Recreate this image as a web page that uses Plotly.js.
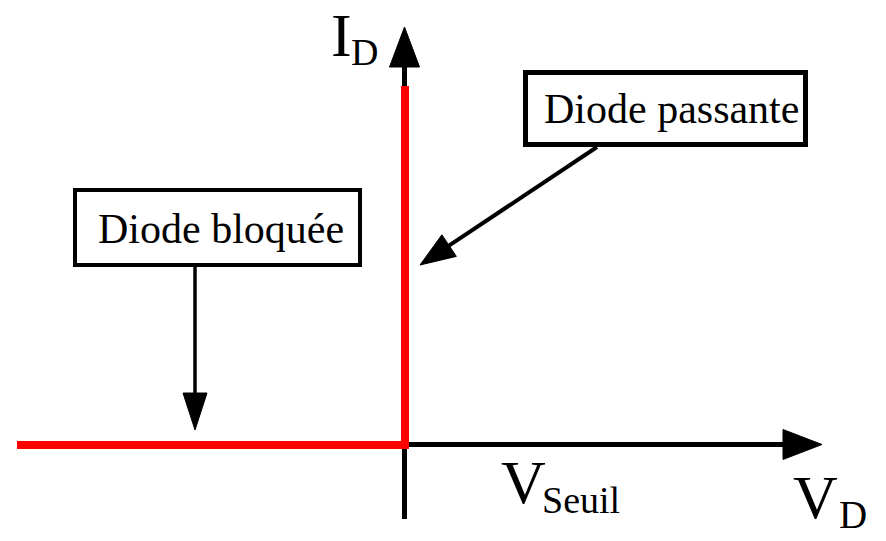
<!DOCTYPE html>
<html>
<head>
<meta charset="utf-8">
<script src="https://cdn.plot.ly/plotly-3.0.1.min.js"></script>
<style>html,body{margin:0;padding:0;background:#fff;}#chart{width:886px;height:541px;}</style>
</head>
<body>
<div id="chart"></div>
<script>
// ---- data: diode characteristic (schematic drawing units) ----
const vD = [-388, 0, 0];     // tension V_D
const iD = [0, 0, 359];      // courant I_D

// ---- texts ----
const labelBloquee = "Diode bloquée";
const labelPassante = "Diode passante";
const axisY = ["I", "D"];
const axisX = ["V", "D"];
const seuil = ["V", "Seuil"];

// ---- layout helpers (1 unit = 1 px, origin at the knee) ----
const OX = 405, OY = 445;
const px = x => x - OX;
const py = y => OY - y;

function arrow(x0, y0, x1, y1, lw, len, hw) {
  // x0,y0 start ; x1,y1 tip (pixel coords)
  const dx = x1 - x0, dy = y1 - y0, d = Math.hypot(dx, dy);
  const ux = dx / d, uy = dy / d;
  const bx = x1 - ux * len, by = y1 - uy * len;
  const nx = -uy, ny = ux;
  const line = {type: 'line', layer: 'below', xref: 'x', yref: 'y',
    x0: px(x0), y0: py(y0), x1: px(bx + ux * 2), y1: py(by + uy * 2),
    line: {color: '#000', width: lw}};
  const p = [[x1, y1], [bx + nx * hw, by + ny * hw], [bx - nx * hw, by - ny * hw]]
    .map(q => px(q[0]) + ',' + py(q[1]));
  const head = {type: 'path', layer: 'below', xref: 'x', yref: 'y',
    path: 'M' + p[0] + ' L' + p[1] + ' L' + p[2] + ' Z',
    fillcolor: '#000', line: {color: '#000', width: 1}};
  return [line, head];
}

function box(x0, y0, x1, y1, lw) {
  return {type: 'rect', layer: 'below', xref: 'x', yref: 'y',
    x0: px(x0 + lw / 2), x1: px(x1 - lw / 2), y0: py(y0 + lw / 2), y1: py(y1 - lw / 2),
    fillcolor: '#fff', line: {color: '#000', width: lw}};
}

function label(text, x, baseline, size) {
  return {xref: 'x', yref: 'y', x: px(x), y: py(baseline - 0.3375 * size),
    xanchor: 'left', yanchor: 'middle', showarrow: false, text: text,
    borderpad: 0, borderwidth: 0,
    font: {family: 'Liberation Serif, Times New Roman, serif', size: size, color: '#000'}};
}

const shapes = [].concat(
  arrow(404.5, 519, 404.5, 27, 5, 40, 15),      // I_D axis
  arrow(404.5, 444.5, 822, 444.5, 5, 39, 15),   // V_D axis
  [box(73, 188, 362, 267, 4), box(523, 70, 808, 147, 5)],
  arrow(195, 267, 195, 430, 3.5, 37, 12),       // bloquée callout
  arrow(597, 147, 420, 265, 4, 35, 13)          // passante callout
);

const annotations = [
  label(axisY[0], 331, 56, 62),
  label(axisY[1], 351, 65, 38),
  label(seuil[0], 501, 503, 62),
  label(seuil[1], 542, 513, 38),
  label(axisX[0], 793, 518, 62),
  label(axisX[1], 839, 528, 39),
  label(labelBloquee, 98, 243, 42),
  label(labelPassante, 544, 123, 42)
];

const trace = {
  x: vD, y: iD, type: 'scatter', mode: 'lines',
  line: {color: '#ff0000', width: 8}, hoverinfo: 'skip', showlegend: false
};

const layout = {
  width: 886, height: 541, autosize: false,
  margin: {l: 0, r: 0, t: 0, b: 0, pad: 0},
  paper_bgcolor: '#fff', plot_bgcolor: '#fff',
  xaxis: {range: [px(0), px(886)], visible: false, fixedrange: true},
  yaxis: {range: [py(541), py(0)], visible: false, fixedrange: true},
  shapes: shapes, annotations: annotations, showlegend: false
};

Plotly.newPlot('chart', [trace], layout, {displayModeBar: false, staticPlot: true});
</script>
</body>
</html>
